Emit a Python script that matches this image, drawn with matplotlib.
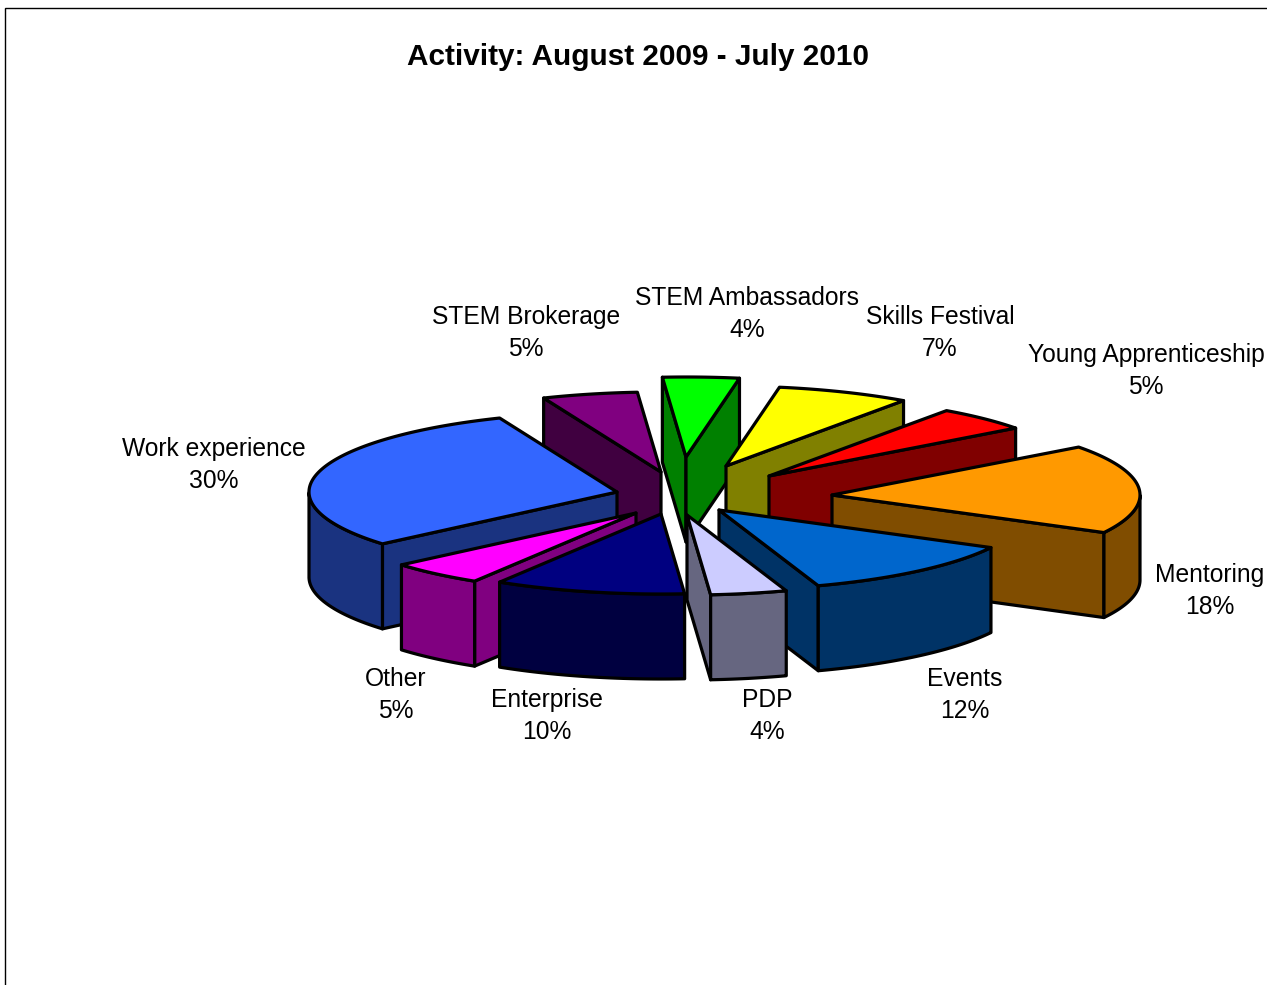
import numpy as np
import matplotlib
matplotlib.use("Agg")
import matplotlib.pyplot as plt
from matplotlib.patches import Polygon, Rectangle

# ---- data (clockwise from the start angle) ----
categories = ["STEM Ambassadors", "Skills Festival", "Young Apprenticeship", "Mentoring",
              "Events", "PDP", "Enterprise", "Other", "Work experience", "STEM Brokerage"]
values = [4, 7, 5, 18, 12, 4, 10, 5, 30, 5]
title = "Activity: August 2009 - July 2010"

# ---- styles ----
top_colors = ["#00FF00", "#FFFF00", "#FF0000", "#FF9900", "#0066CC",
              "#CCCCFF", "#000080", "#FF00FF", "#3366FF", "#800080"]
side_colors = ["#008000", "#808000", "#800000", "#804D00", "#003366",
               "#666680", "#000040", "#800080", "#1A3380", "#400040"]

# ---- layout (pixels) ----
W, H = 1267, 985
CX, CY = 724, 497
RX, RY, DEPTH = 308, 80, 85
START = 94.4
explode_dx = [-38, 2, 45, 108, -5, -37, -63, -88, -107, -63]
explode_dy = [-40, -31, -21, -2, 13, 18, 17, 16, -5, -25]
label_pos = [(747, 314), (940, 333), (1146, 371), (1210, 591), (965, 695),
             (767, 716), (547, 716), (396, 695), (214, 465), (526, 333)]
LW = 2.3

plt.rcParams["font.family"] = ["Liberation Sans", "DejaVu Sans"]
fig = plt.figure(figsize=(W / 100, H / 100), dpi=100)
ax = fig.add_axes([0, 0, 1, 1])
ax.set_xlim(0, W)
ax.set_ylim(H, 0)
ax.axis("off")
ax.add_patch(Rectangle((5, 8), W + 20, H + 20, fc="white", ec="black", lw=1.0, zorder=0))


def rim(ax0, ay0, t):
    t = np.radians(t)
    return np.column_stack([ax0 + RX * np.cos(t), ay0 - RY * np.sin(t)])


total = sum(values)
sweeps = [v / total * 360 for v in values]
starts = START - np.concatenate([[0], np.cumsum(sweeps)[:-1]])
mids = starts - np.array(sweeps) / 2
order = np.argsort(-np.sin(np.radians(mids)))

z = 1
for i in order:
    t1, t2 = starts[i], starts[i] - sweeps[i]
    ax0, ay0 = CX + explode_dx[i], CY + explode_dy[i]
    apex = np.array([[ax0, ay0]])
    down = np.array([0, DEPTH])
    faces = []
    # radial faces that turn toward the viewer
    for t, visible in ((t1, np.cos(np.radians(t1)) < 0), (t2, np.cos(np.radians(t2)) > 0)):
        if visible:
            p = rim(ax0, ay0, np.array([t]))
            faces.append(np.vstack([apex, p, p + down, apex + down]))
    # outer wall: the part of the arc on the front of the ellipse
    ts = np.linspace(t1, t2, 120)
    ts = ts[np.sin(np.radians(ts)) <= 0]
    if len(ts) > 1:
        arc = rim(ax0, ay0, ts)
        faces.append(np.vstack([arc, (arc + down)[::-1]]))
    for f in faces:
        ax.add_patch(Polygon(f, closed=True, fc=side_colors[i], ec="black", lw=LW,
                             joinstyle="round", zorder=z))
        z += 1
    top = np.vstack([apex, rim(ax0, ay0, np.linspace(t1, t2, 120))])
    ax.add_patch(Polygon(top, closed=True, fc=top_colors[i], ec="black", lw=LW,
                         joinstyle="round", zorder=z))
    z += 1

for name, v, (x, y) in zip(categories, values, label_pos):
    ax.text(x, y, f"{name}\n{v}%", ha="center", va="center", fontsize=17.75,
            linespacing=1.4, color="black", zorder=z)

ax.text(638, 57, title, ha="center", va="center", fontsize=21.4, fontweight="bold",
        color="black", zorder=z)

fig.savefig("out.png", dpi=100, facecolor="white")
